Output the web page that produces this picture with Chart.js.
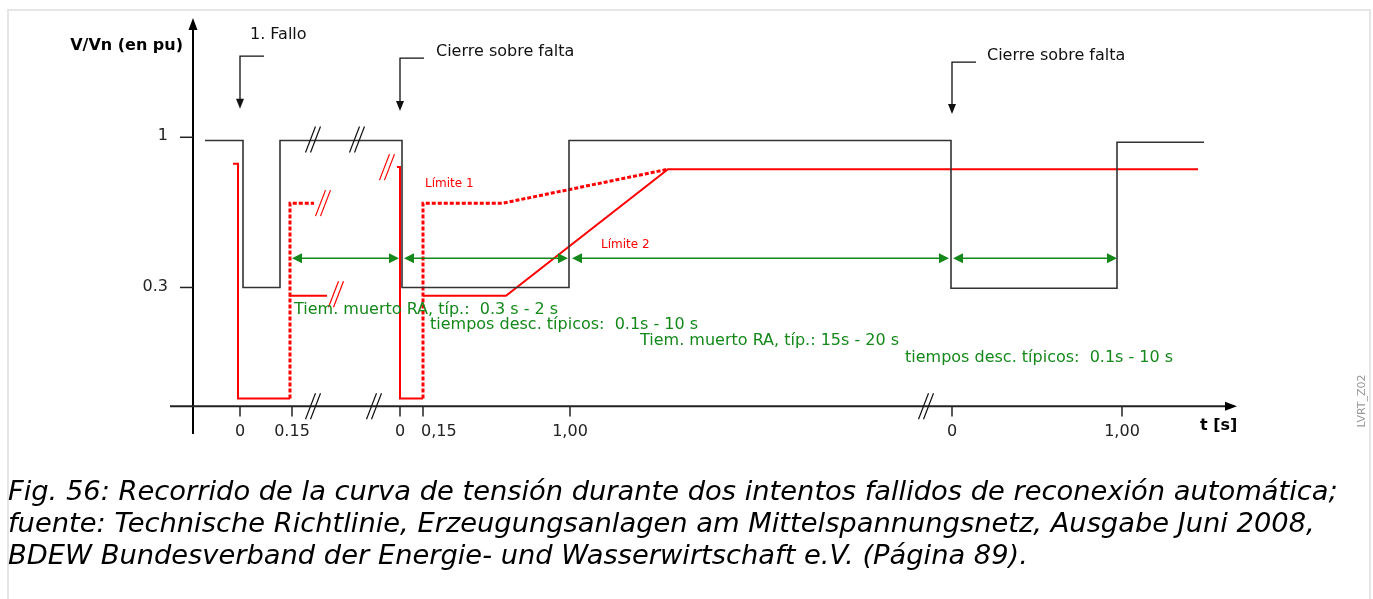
<!DOCTYPE html>
<html>
<head>
<meta charset="utf-8">
<script src="https://cdn.jsdelivr.net/npm/chart.js@4"></script>
<style>
  body { margin: 0; background: #fff; }
  #marco { position: absolute; left: 7px; top: 9px; width: 1360px; height: 700px;
           border-left: 2px solid #e6e6e6; border-top: 2px solid #e6e6e6; border-right: 2px solid #e6e6e6; }
  #grafico { position: absolute; left: 0; top: 0; }
  #pie { position: absolute; left: 8px; top: 475px; font: italic 27.3px "DejaVu Sans"; line-height: 32px; color: #000; white-space: nowrap; }
</style>
</head>
<body>
<div id="marco"></div>
<canvas id="grafico" width="1373" height="599"></canvas>
<div id="pie">Fig. 56: Recorrido de la curva de tensión durante dos intentos fallidos de reconexión automática;<br>fuente: Technische Richtlinie, Erzeugungsanlagen am Mittelspannungsnetz, Ausgabe Juni 2008,<br>BDEW Bundesverband der Energie- und Wasserwirtschaft e.V. (Página 89).</div>
<script>
// Eje t esquemático (tramos con cortes "//"): posición en el dibujo, tensión en pu
const tensionX = [-0.35, 0.03, 0.03, 0.40, 0.40, 1.62, 1.62, 3.29, 3.29, 7.11, 7.11, 8.77, 8.77, 9.64];
const tensionY = [0.985, 0.985, 0.30, 0.30, 0.985, 0.985, 0.30, 0.30, 0.985, 0.985, 0.296, 0.296, 0.977, 0.977];

// Límite 1 / Límite 2, primer intento
const lim1aX = [-0.07, -0.02, -0.02, 0.50];
const lim1aY = [0.877, 0.877, -0.217, -0.217];
const punt1aX = [0.50, 0.50, 0.74];
const punt1aY = [-0.217, 0.693, 0.693];
const lim2aX = [0.49, 0.87];
const lim2aY = [0.261, 0.261];

// segundo intento
const lim1bX = [1.57, 1.60, 1.60, 1.83];
const lim1bY = [0.861, 0.861, -0.217, -0.217];
const punt1bX = [1.83, 1.83, 2.63, 4.28];
const punt1bY = [-0.217, 0.693, 0.693, 0.851];
const lim2bX = [1.83, 2.66, 4.28, 9.58];
const lim2bY = [0.261, 0.261, 0.851, 0.851];

// ticks del eje t
const ticksT = [0.0, 0.52, 1.60, 1.83, 3.30, 7.12, 8.82];
const ticksTLbl = ["0", "0.15", "0", "0,15", "1,00", "0", "1,00"];
const ticksV = [1, 0.3];
const ticksVLbl = ["1", "0.3"];

// flechas verdes (tiempos)
const flechaIni = [0.52, 1.64, 3.32, 7.13];
const flechaFin = [1.59, 3.28, 7.09, 8.77];
const flechaV = 0.436;
const textosVerdes = [
  "Tiem. muerto RA, típ.:  0.3 s - 2 s",
  "tiempos desc. típicos:  0.1s - 10 s",
  "Tiem. muerto RA, típ.: 15s - 20 s",
  "tiempos desc. típicos:  0.1s - 10 s"
];
const textosVerdesX = [0.54, 1.90, 4.00, 6.65];
const textosVerdesY = [0.198, 0.124, 0.049, -0.026];

// eventos (flechas negras)
const eventosLbl = ["1. Fallo", "Cierre sobre falta", "Cierre sobre falta"];
const eventosX = [0.0, 1.60, 7.12];
const eventosY = [1.378, 1.369, 1.350];
const eventosPunta = [1.133, 1.122, 1.108];
const eventosTxtX = [0.10, 1.96, 7.47];
const eventosTxtY = [1.476, 1.397, 1.378];

// cortes "//"
const cortesNegrosX = [0.73, 1.17, 0.73, 1.34, 6.86];
const cortesNegrosY = [0.990, 0.990, -0.254, -0.254, -0.254];
const cortesRojosX = [0.83, 0.96, 1.47];
const cortesRojosY = [0.693, 0.268, 0.861];

const NEGRO = "#333";
const ROJO = "#ff0000";
const VERDE = "#14881a";

function pares(xs, ys) { return xs.map((x, i) => ({ x, y: ys[i] })); }

function serie(xs, ys, color, ancho, dash) {
  return {
    data: pares(xs, ys), showLine: true, borderColor: color, borderWidth: ancho,
    borderDash: dash || [], pointRadius: 0, tension: 0, fill: false
  };
}

function punta(ctx, x, y, ang, largo, medio, color) {
  ctx.save();
  ctx.translate(x, y);
  ctx.rotate(ang);
  ctx.fillStyle = color;
  ctx.beginPath();
  ctx.moveTo(0, 0);
  ctx.lineTo(-largo, -medio);
  ctx.lineTo(-largo, medio);
  ctx.closePath();
  ctx.fill();
  ctx.restore();
}

function trazo(ctx, pts, color, ancho) {
  ctx.strokeStyle = color;
  ctx.lineWidth = ancho;
  ctx.beginPath();
  pts.forEach((p, i) => i ? ctx.lineTo(p[0], p[1]) : ctx.moveTo(p[0], p[1]));
  ctx.stroke();
}

const dibujo = {
  id: "dibujo",
  afterDatasetsDraw(chart) {
    const ctx = chart.ctx;
    const sx = chart.scales.x, sy = chart.scales.y;
    const px = u => sx.getPixelForValue(u);
    const py = v => sy.getPixelForValue(v);
    ctx.save();

    // ejes
    const x0 = px(-0.47), y0 = py(-0.254);
    trazo(ctx, [[x0, py(-0.383)], [x0, py(1.53)]], "#000", 2);
    punta(ctx, x0, py(1.556), -Math.PI / 2, 12, 4.5, "#000");
    trazo(ctx, [[px(-0.70), y0], [px(9.86), y0]], "#222", 2);
    punta(ctx, px(9.97), y0, 0, 12, 4.5, "#000");

    ctx.font = "16px 'DejaVu Sans'";
    ctx.fillStyle = "#222";
    ctx.textBaseline = "middle";
    ticksT.forEach((t, i) => {
      trazo(ctx, [[px(t), y0], [px(t), py(-0.301)]], "#222", 1.5);
      ctx.textAlign = ticksTLbl[i] === "0,15" ? "left" : "center";
      const xl = ticksTLbl[i] === "0,15" ? px(t) - 2 : px(t);
      ctx.fillText(ticksTLbl[i], xl, py(-0.374));
    });
    ticksV.forEach((v, i) => {
      trazo(ctx, [[x0 - 13, py(v)], [x0, py(v)]], "#222", 1.5);
      ctx.textAlign = "right";
      ctx.fillText(ticksVLbl[i], x0 - 25, py(v) - 1);
    });

    ctx.font = "bold 16px 'DejaVu Sans'";
    ctx.fillStyle = "#000";
    ctx.textAlign = "right";
    ctx.fillText("V/Vn (en pu)", x0 - 10, py(1.425));
    ctx.textAlign = "left";
    ctx.fillText("t [s]", px(9.60), py(-0.347));

    // cortes
    const corte = (u, v, color) => {
      const cx = px(u), cy = py(v);
      [-2.5, 2.5].forEach(d => trazo(ctx, [[cx + d - 5, cy + 13], [cx + d + 5, cy - 13]], color, 1.2));
    };
    cortesNegrosX.forEach((u, i) => corte(u, cortesNegrosY[i], "#111"));
    cortesRojosX.forEach((u, i) => corte(u, cortesRojosY[i], ROJO));

    // eventos
    ctx.font = "16px 'DejaVu Sans'";
    ctx.fillStyle = "#111";
    ctx.textAlign = "left";
    eventosX.forEach((u, i) => {
      const ex = px(u);
      trazo(ctx, [[px(u + 0.24), py(eventosY[i])], [ex, py(eventosY[i])], [ex, py(eventosPunta[i]) - 9]], "#111", 1.3);
      punta(ctx, ex, py(eventosPunta[i]), Math.PI / 2, 10, 4, "#111");
      ctx.fillText(eventosLbl[i], px(eventosTxtX[i]), py(eventosTxtY[i]));
    });

    // flechas verdes
    flechaIni.forEach((a, i) => {
      const ya = py(flechaV);
      trazo(ctx, [[px(a) + 6, ya], [px(flechaFin[i]) - 6, ya]], VERDE, 1.5);
      punta(ctx, px(a), ya, Math.PI, 10, 5, VERDE);
      punta(ctx, px(flechaFin[i]), ya, 0, 10, 5, VERDE);
    });
    ctx.fillStyle = VERDE;
    ctx.font = "16px 'DejaVu Sans'";
    textosVerdes.forEach((t, i) => ctx.fillText(t, px(textosVerdesX[i]), py(textosVerdesY[i])));

    ctx.fillStyle = ROJO;
    ctx.font = "12px 'DejaVu Sans'";
    ctx.fillText("Límite 1", px(1.85), py(0.781));
    ctx.fillText("Límite 2", px(3.61), py(0.497));

    // referencia vertical
    ctx.save();
    ctx.translate(1362, 401);
    ctx.rotate(-Math.PI / 2);
    ctx.textAlign = "center";
    ctx.fillStyle = "#999";
    ctx.font = "11px 'DejaVu Sans'";
    ctx.fillText("LVRT_Z02", 0, 0);
    ctx.restore();

    ctx.restore();
  }
};

new Chart(document.getElementById("grafico"), {
  type: "scatter",
  data: {
    datasets: [
      serie(tensionX, tensionY, NEGRO, 1.6),
      serie(lim1aX, lim1aY, ROJO, 2),
      serie(lim2aX, lim2aY, ROJO, 2),
      serie(punt1aX, punt1aY, ROJO, 3, [4, 2]),
      serie(lim1bX, lim1bY, ROJO, 2),
      serie(lim2bX, lim2bY, ROJO, 2),
      serie(punt1bX, punt1bY, ROJO, 3, [4, 2])
    ]
  },
  options: {
    responsive: false,
    animation: false,
    layout: { padding: { left: 170, right: 133, top: 18, bottom: 165 } },
    plugins: { legend: { display: false }, tooltip: { enabled: false } },
    scales: {
      x: { type: "linear", min: -0.70, max: 10.0, display: false },
      y: { type: "linear", min: -0.383, max: 1.556, display: false }
    }
  },
  plugins: [dibujo]
});
</script>
</body>
</html>
